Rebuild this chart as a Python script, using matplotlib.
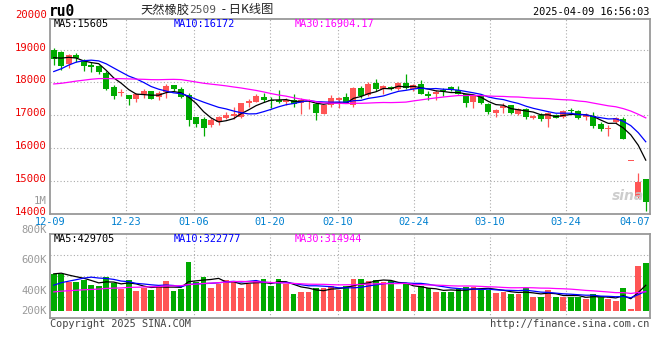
import numpy as np
import pandas as pd
import matplotlib
matplotlib.use("Agg")
import matplotlib.pyplot as plt
from matplotlib.transforms import blended_transform_factory

# ---- data (ru0 daily, 2024-12-09 .. 2025-04-09) ----
opens = [18990, 18920, 18545, 18820, 18645, 18535, 18485, 18295, 17860, 17670,
         17605, 17495, 17655, 17735, 17555, 17705, 17910, 17810, 17605, 16950,
         16870, 16715, 16800, 16920, 16970, 16950, 17385, 17415, 17555, 17475,
         17475, 17395, 17475, 17375, 17425, 17355, 17050, 17305, 17465, 17555,
         17305, 17840, 17605, 17980, 17790, 17860, 17810, 17980, 17790, 17940,
         17635, 17645, 17780, 17850, 17780, 17635, 17405, 17575, 17345, 17070,
         17225, 17315, 17050, 17190, 16900, 17020, 16870, 17020, 16930, 17140,
         17130, 16940, 16990, 16745, 16575, 16800, 16880, 15600, 14500, 15070]
highs = [19040, 18950, 18870, 18900, 18715, 18615, 18535, 18335, 17910, 17790,
         17605, 17675, 17810, 17750, 17725, 17950, 17930, 17860, 17675, 16950,
         16930, 16900, 16990, 17100, 17250, 17375, 17495, 17645, 17685, 17555,
         17780, 17515, 17655, 17525, 17505, 17405, 17305, 17605, 17555, 17675,
         17860, 17890, 18010, 18090, 17930, 17890, 18010, 18250, 17960, 18080,
         17735, 17760, 17830, 17890, 17890, 17655, 17605, 17635, 17365, 17200,
         17375, 17315, 17230, 17220, 17020, 17070, 17100, 17050, 17150, 17220,
         17150, 17070, 17090, 16800, 16700, 16950, 16950, 15610, 15250, 15070]
lows = [18535, 18390, 18445, 18620, 18345, 18325, 18265, 17780, 17505, 17575,
        17320, 17405, 17535, 17490, 17455, 17525, 17740, 17525, 16675, 16645,
        16370, 16645, 16700, 16890, 16870, 16900, 17255, 17395, 17405, 17225,
        17375, 17315, 17235, 17050, 17200, 16850, 17050, 17260, 17225, 17375,
        17255, 17535, 17575, 17740, 17655, 17760, 17760, 17790, 17740, 17635,
        17455, 17475, 17575, 17735, 17635, 17255, 17230, 17355, 17050, 16930,
        17080, 17030, 17000, 16870, 16870, 16830, 16645, 16900, 16910, 17070,
        16870, 16850, 16625, 16525, 16370, 16770, 16290, 15600, 14480, 14070]
closes = [18717, 18495, 18820, 18740, 18495, 18465, 18325, 17810, 17585, 17690,
          17495, 17635, 17735, 17500, 17680, 17890, 17790, 17555, 16840, 16725,
          16625, 16840, 16950, 17020, 17040, 17375, 17425, 17595, 17475, 17435,
          17395, 17475, 17335, 17475, 17475, 17070, 17305, 17525, 17525, 17375,
          17840, 17585, 17960, 17810, 17880, 17790, 17980, 17830, 17920, 17655,
          17595, 17705, 17740, 17755, 17655, 17385, 17575, 17385, 17100, 17170,
          17285, 17070, 17200, 16930, 16990, 16870, 17070, 16920, 17120, 17130,
          16900, 17000, 16665, 16565, 16625, 16920, 16290, 15610, 14980, 14355]
# volume, thousand lots
volumes = [616, 616, 482, 482, 515, 431, 414, 566, 465, 364,
           515, 330, 381, 347, 414, 498, 330, 364, 818, 482,
           566, 381, 454, 515, 498, 381, 448, 498, 532, 414,
           532, 448, 280, 314, 314, 381, 381, 414, 347, 414,
           532, 532, 498, 515, 487, 498, 364, 448, 280, 414,
           375, 314, 314, 314, 381, 398, 398, 347, 347, 297,
           314, 280, 280, 381, 230, 230, 347, 230, 230, 230,
           230, 196, 280, 230, 196, 162, 381, 28, 750, 801]
# sessions before the window (only feed the moving averages)
pre_closes = [17900, 17850, 17700, 17650, 17600, 17750, 17800, 17700, 17650, 17700,
              17850, 17900, 17800, 17750, 17700, 17650, 17800, 17900, 17850, 17750,
              17650, 17700, 17850, 18050, 18300, 18550, 18700, 18850, 18932]
pre_volumes = [250, 270, 240, 260, 280, 230, 250, 300, 270, 240,
               260, 250, 230, 280, 260, 240, 270, 250, 260, 270,
               200, 220, 240, 250, 270, 560, 640, 620, 644]

date_idx = [0, 10, 19, 29, 38, 48, 58, 68, 76]
date_labels = ["12-09", "12-23", "01-06", "01-20", "02-10", "02-24", "03-10", "03-24", "04-07"]
price_ticks = [14000, 15000, 16000, 17000, 18000, 19000, 20000]
vol_tick_labels = ["800K", "600K", "400K", "200K"]

W, H = 660, 360
MONO = "DejaVu Sans Mono"
RED, GREEN = "#ff5555", "#00aa00"
GRID = dict(color="#aaaaaa", lw=0.8, ls=(0, (1, 2)))


def fx(px):
    return px / W


def fy(py):
    return 1 - py / H


n = len(closes)
x = np.arange(n)
o, hi, lo, c = map(np.array, (opens, highs, lows, closes))
up = c >= o
cols = np.where(up, RED, GREEN)

cl_all = pd.Series(pre_closes + closes, dtype=float)
vo_all = pd.Series(pre_volumes + volumes, dtype=float)
k = len(pre_closes)
ma = {w: cl_all.rolling(w).mean().values[k:] for w in (5, 10, 30)}
vma = {w: vo_all.rolling(w).mean().values[k:] for w in (5, 10, 30)}

fig = plt.figure(figsize=(W / 100, H / 100), dpi=100)
fig.patch.set_facecolor("white")

ax = fig.add_axes([fx(50), fy(213.7), fx(599.5), (213.7 - 19) / H])
axv = fig.add_axes([fx(50), fy(318), fx(599.5), 84 / H])

# grid x positions (sina spaces date grid slightly wider than candles)
gx = np.array(date_idx) * 1.012 - 0.5

for a in (ax, axv):
    a.set_xlim(-0.5, n - 0.5)
    a.set_xticks([])
    for s in a.spines.values():
        s.set_color("#999999"); s.set_linewidth(1.3)
    for g in gx[1:-1]:
        a.axvline(g, zorder=0, **GRID)
    a.tick_params(left=False, labelleft=False, bottom=False, labelbottom=False)

# ---- price panel ----
ax.set_ylim(14000, 19930)
for t in price_ticks[1:-1]:
    ax.axhline(t, zorder=0, **GRID)
ax.vlines(x, lo, hi, colors=cols, lw=0.9, zorder=2)
body = np.maximum(np.abs(c - o), 30)
ax.bar(x, body, bottom=np.minimum(o, c), width=0.8, color=cols, zorder=3)
ax.plot(x, ma[5], color="black", lw=0.9, zorder=4)
ax.plot(x, ma[10], color="#0000ff", lw=0.9, zorder=4)
ax.plot(x, ma[30], color="#ff00ff", lw=0.9, zorder=4)

tr = blended_transform_factory(ax.transAxes, ax.transData)
for t in price_ticks:
    ax.text(-0.0055, t + 60, str(t), transform=tr, ha="right", va="center",
            color="#ee0000", fontsize=7.6, family=MONO, clip_on=False)
fig.text(fx(46.7), fy(200.7), "1M", ha="right", va="center", color="#999999",
         fontsize=7.6, family=MONO)

fig.text(fx(54), fy(24), "MA5:15605", color="black", fontsize=7.4, family=MONO, va="center")
fig.text(fx(174), fy(24), "MA10:16172", color="#0000ff", fontsize=7.4, family=MONO, va="center")
fig.text(fx(295), fy(24), "MA30:16904.17", color="#ff00ff", fontsize=7.4, family=MONO, va="center")

fig.text(fx(612), fy(196), "sina", color="#c8c8c8", fontsize=10, family="DejaVu Sans",
         style="italic", weight="bold", va="center", alpha=0.9)

# date labels
trx = blended_transform_factory(ax.transData, fig.transFigure)
for i, (g, lab) in enumerate(zip(gx, date_labels)):
    ha = "center"
    if i == len(gx) - 1:
        g, ha = n - 0.5, "right"
    ax.text(g, fy(221.7), lab, transform=trx, ha=ha, va="center", color="#0080d0",
            fontsize=7.4, family=MONO, clip_on=False)

# ---- volume panel ----
vlo, vhi = -123, 1283
axv.set_ylim(vlo, vhi)
for f in (0.25, 0.5, 0.75):
    axv.axhline(vlo + (vhi - vlo) * f, zorder=0, **GRID)
axv.bar(x, volumes, width=0.76, color=cols, zorder=2)
axv.plot(x, vma[5], color="black", lw=0.9, zorder=3)
axv.plot(x, vma[10], color="#0000ff", lw=0.9, zorder=3)
axv.plot(x, vma[30], color="#ff00ff", lw=0.9, zorder=3)

for lab, py in zip(vol_tick_labels, [230, 260, 291, 311]):
    fig.text(fx(46.7), fy(py), lab, ha="right", va="center", color="#999999",
             fontsize=7.6, family=MONO)
fig.text(fx(54), fy(239), "MA5:429705", color="black", fontsize=7.4, family=MONO, va="center")
fig.text(fx(174), fy(239), "MA10:322777", color="#0000ff", fontsize=7.4, family=MONO, va="center")
fig.text(fx(295), fy(239), "MA30:314944", color="#ff00ff", fontsize=7.4, family=MONO, va="center")

# ---- header / footer ----
fig.text(fx(49), fy(11), "ru0", color="black", fontsize=10.5, family=MONO,
         weight="bold", va="center")
CJK = ["Noto Sans CJK SC", "DejaVu Sans"]
t1 = fig.text(fx(140), fy(10), "天然橡胶", color="#222222", fontsize=8.8, family=CJK, va="center")
t2 = fig.text(0, 0, "2509", color="#555555", fontsize=8, family=MONO, va="center")
t3 = fig.text(0, 0, " - 日K线图", color="#222222", fontsize=8.8, family=CJK, va="center")
fig.canvas.draw()
r = fig.canvas.get_renderer()
b1 = t1.get_window_extent(r)
t2.set_position((b1.x1 / fig.bbox.width, fy(10)))
b2 = t2.get_window_extent(r)
t3.set_position((b2.x1 / fig.bbox.width + 0.004, fy(10)))

fig.text(fx(649.5), fy(12), "2025-04-09 16:56:03", ha="right", va="center",
         color="black", fontsize=7.4, family=MONO)
fig.text(fx(50), fy(324), "Copyright 2025 SINA.COM", ha="left", va="center",
         color="#444444", fontsize=7.4, family=MONO)
fig.text(fx(649.5), fy(324), "http://finance.sina.com.cn", ha="right", va="center",
         color="#444444", fontsize=7.4, family=MONO)

fig.savefig("out.png", dpi=100)
